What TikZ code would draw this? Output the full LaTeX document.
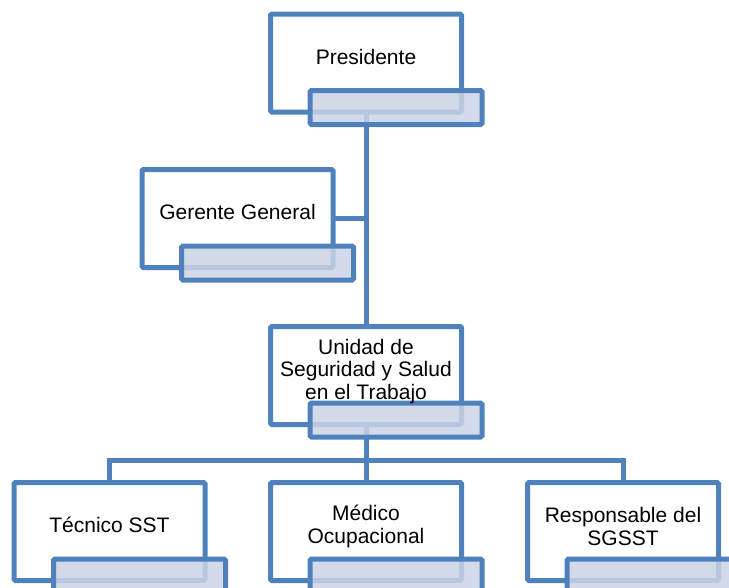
\documentclass[tikz,border=0pt]{standalone}
\usepackage{fontspec}
\setmainfont{Liberation Sans}
\definecolor{obl}{RGB}{79,129,189}
\definecolor{ofill}{RGB}{203,212,229}
\pgfdeclarelayer{bg}
\pgfsetlayers{bg,main}
\begin{document}
\begin{tikzpicture}[x=1pt,y=-1pt,
  mainbox/.style={draw=obl, line width=5pt, fill=white, rounded corners=1.5pt, minimum width=191pt, minimum height=98pt, inner sep=0pt},
  tagbox/.style={draw=obl, line width=5pt, fill=ofill, fill opacity=0.85, rounded corners=1.5pt, minimum width=172pt, minimum height=34pt, inner sep=0pt},
  lbl/.style={font=\fontsize{21}{22.5}\selectfont, align=center, text=black, inner sep=0pt},
  conn/.style={draw=obl, line width=5pt}]
\useasboundingbox (0,0) rectangle (729,587);
% Presidente
\node[mainbox] (pres) at (366,63) {};
\node[tagbox] (presT) at (396,107.5) {};
\node[lbl] (presL) at (366,57) {Presidente};
% Gerente
\node[mainbox] (gere) at (237.5,218.5) {};
\node[tagbox] (gereT) at (267.5,263) {};
\node[lbl] (gereL) at (237.5,212) {Gerente General};
% Unidad
\node[mainbox] (unid) at (366,375.5) {};
\node[tagbox] (unidT) at (396,420) {};
\node[lbl] (unidL) at (366,371.5) {Unidad de\\Seguridad y Salud\\en el Trabajo};
% Bottom row
\node[mainbox] (tec) at (109.5,531.5) {};
\node[tagbox] (tecT) at (139.5,576) {};
\node[lbl] (tecL) at (109.5,525) {Técnico SST};
\node[mainbox] (med) at (366,531.5) {};
\node[tagbox] (medT) at (396,576) {};
\node[lbl] (medL) at (366,526.5) {Médico\\Ocupacional};
\node[mainbox] (resp) at (623,531.5) {};
\node[tagbox] (respT) at (653,576) {};
\node[lbl] (respL) at (623,526.5) {Responsable del\\SGSST};
\coordinate (bus) at (366,460);
\begin{pgfonlayer}{bg}
\draw[conn] (pres.center) -- (unid.center);
\draw[conn] (gere.center) -- (gere.center -| pres.center);
\draw[conn] (unid.center) -- (med.center);
\draw[conn] (tec.center) -- (tec.center |- bus) -- (resp.center |- bus) -- (resp.center);
\end{pgfonlayer}
\end{tikzpicture}
\end{document}
